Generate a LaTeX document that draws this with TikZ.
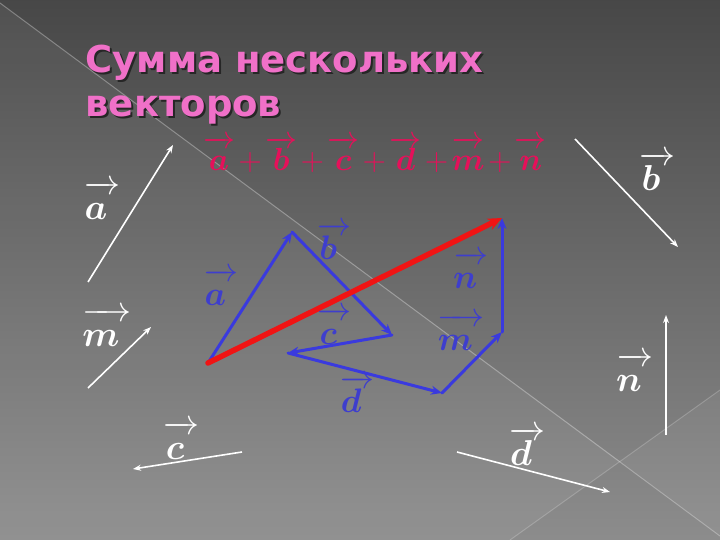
\documentclass[tikz,border=0pt]{standalone}
\usepackage{fix-cm}
\usepackage{amsmath,bm}
\usepackage{fontspec}
\newfontfamily\titlefont{DejaVu Sans}
\usetikzlibrary{arrows.meta,positioning}
\definecolor{TitlePink}{RGB}{240,112,200}
\definecolor{SumRed}{RGB}{230,16,90}
\definecolor{VecBlue}{RGB}{58,58,222}
\definecolor{LabelBlue}{RGB}{62,62,205}
\definecolor{ResRed}{RGB}{240,20,20}
\newcommand\vlab[1]{\ensuremath{\overrightarrow{\vphantom{b}\boldsymbol{#1}\mkern6mu}}}
\newcommand\vsum[1]{\overrightarrow{\vphantom{b}\boldsymbol{#1}}}
\tikzset{
  wvec/.style={white, line width=1.6pt, -{Stealth[length=8pt,width=6pt]}},
  bvec/.style={VecBlue, line width=3pt, line cap=round, -{Stealth[length=11pt,width=9pt]}},
  rvec/.style={ResRed, line width=5.5pt, line cap=round, -{Stealth[length=14pt,width=12pt]}},
  wlab/.style={white, inner sep=0pt, font=\fontsize{36}{40}\selectfont},
  blab/.style={LabelBlue, inner sep=0pt, font=\fontsize{34}{38}\selectfont},
  titletext/.style={anchor=base west, font=\titlefont\bfseries\fontsize{37}{42}\selectfont},
}

\begin{document}
\begin{tikzpicture}[x=1pt,y=-1pt]
    %%Background
    \shade[top color=black!72, bottom color=black!45] (0,0) rectangle (720,540);
    \useasboundingbox (0,0) rectangle (720,540);
    \fill[white, opacity=0.05] (0,3) -- (0,540) -- (510,540) -- (720,390) -- (720,535) -- cycle;
    \draw[white, opacity=0.3, line width=1pt] (0,3) to (720,536);
    \draw[white, opacity=0.2, line width=1pt] (510,540) to (720,390);
    %%Single vectors
    \coordinate (a1) at (88,282);  \coordinate (a2) at (173,145);
    \coordinate (b1) at (575,139); \coordinate (b2) at (678,247);
    \coordinate (m1) at (88,388);  \coordinate (m2) at (151,327);
    \coordinate (c1) at (242,452); \coordinate (c2) at (133,469);
    \coordinate (d1) at (457,452); \coordinate (d2) at (610,492);
    \coordinate (n1) at (666,435); \coordinate (n2) at (666,315);
    \foreach \v in {a,b,m,c,d,n}
    {
    \draw[wvec] (\v1) to (\v2);
    }
    \node[wlab] (la) at (102,200) {\vlab{a}};
    \node[wlab] (lb) at (657,171) {\vlab{b}};
    \node[wlab] (lm) at (107,327) {\vlab{m}};
    \node[wlab] (lc) at (181,440) {\vlab{c}};
    \node[wlab] (ld) at (527,446) {\vlab{d}};
    \node[wlab] (ln) at (635,372) {\vlab{n}};
    %%Polygon rule
    \coordinate (p0) at (208,363);
    \coordinate (p1) at (292,232);
    \coordinate (p2) at (392,335);
    \coordinate (p3) at (288,353);
    \coordinate (p4) at (442,393);
    \coordinate (p5) at (502,332);
    \coordinate (p6) at (502,218);
    \foreach \i/\j in {p0/p1,p1/p2,p2/p3,p3/p4,p4/p5,p5/p6}
    {
    \draw[bvec] (\i) to (\j);
    }
    \draw[rvec] (p0) to (p6);
    \node[blab] (pa) at (221,287) {\vlab{a}};
    \node[blab] (pb) at (334,241) {\vlab{b}};
    \node[blab] (pc) at (334,326) {\vlab{c}};
    \node[blab] (pd) at (357,394) {\vlab{d}};
    \node[blab] (pn) at (471,270) {\vlab{n}};
    \node[blab] (pm) at (461,332) {\vlab{m}};
    %%Title
    \node[titletext, black!85] (tshadow) at (84,75) {Сумма нескольких};
    \node[titletext, black!85] (tshadow2) at (84,119) {векторов};
    \node[titletext, TitlePink] (title) at (82,73) {Сумма нескольких};
    \node[titletext, TitlePink] (title2) at (82,117) {векторов};
    \node[SumRed, inner sep=0pt, font=\fontsize{32}{36}\selectfont] (sum) at (375,155)
      {$\medmuskip=2mu \vsum{a}+\vsum{b}+\vsum{c}+\vsum{d}+\vsum{m}+\vsum{n}$};
\end{tikzpicture}
\end{document}
